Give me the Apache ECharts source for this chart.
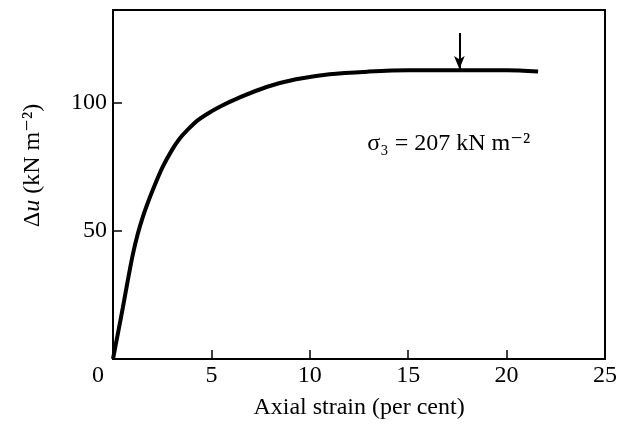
<!DOCTYPE html>
<html>
<head>
<meta charset="utf-8">
<script src="https://cdn.jsdelivr.net/npm/echarts@6/dist/echarts.min.js"></script>
<style>
  html, body { margin: 0; padding: 0; background: #fff; }
  #chart { width: 622px; height: 425px; }
</style>
</head>
<body>
<div id="chart"></div>
<script>
// strain (per cent) vs excess pore pressure (kN/m2)
const strain = [0, 0.25, 0.5, 0.75, 1.0, 1.25, 1.5, 1.75, 2.0, 2.5, 3.0, 3.4, 3.75, 4.3, 5.0, 5.6, 6.3, 7.8, 9.3, 11, 13, 15, 17.6, 20, 21.6]
const deltaU = [0, 10, 20, 30.5, 40.5, 48.5, 55, 60.5, 65.5, 74.5, 81.5, 86, 89, 93, 96.5, 99, 101.5, 106, 109, 111, 112, 112.5, 112.5, 112.5, 112]
const xTicks = [0, 5, 10, 15, 20, 25]
const yTicks = [50, 100]
// failure arrow (x, from y, to y) and note position
const arrowAt = [17.6, 127, 113]
const noteAt = [12.9, 84]
const noteText = 'σ₃ = 207 kN m⁻²'

const serif = "'Liberation Serif', 'DejaVu Serif', serif"
const fs = 24

const myChart = echarts.init(document.getElementById('chart'))

const option = {
  backgroundColor: '#fff',
  animation: false,
  grid: {
    left: 113,
    right: 17,
    top: 10,
    bottom: 63,
    show: true,
    borderColor: '#000',
    borderWidth: 2
  },
  xAxis: {
    type: 'value',
    min: 0,
    max: 25,
    interval: 5,
    name: 'Axial strain (per cent)',
    nameLocation: 'middle',
    nameGap: 37,
    nameTextStyle: { fontFamily: serif, fontSize: fs, color: '#000' },
    axisLine: { lineStyle: { color: '#000', width: 2 } },
    axisTick: { inside: true, length: 9, lineStyle: { color: '#000', width: 1.5 } },
    axisLabel: {
      margin: 5,
      fontFamily: serif,
      fontSize: fs,
      color: '#000',
      formatter: (v) => xTicks.includes(v) ? (v === 0 ? '{z|0}' : String(v)) : '',
      rich: { z: { fontFamily: serif, fontSize: fs, color: '#000', padding: [0, 30, 0, 0] } }
    },
    splitLine: { show: false }
  },
  yAxis: {
    type: 'value',
    min: 0,
    max: 136,
    interval: 50,
    name: '{n|Δ}{i|u}{n| (kN m⁻²)}',
    nameLocation: 'middle',
    nameGap: 68,
    nameRotate: 90,
    nameTextStyle: {
      padding: [0, 0, 0, 38],
      rich: {
        n: { fontFamily: serif, fontSize: fs, color: '#000' },
        i: { fontFamily: serif, fontSize: fs, fontStyle: 'italic', color: '#000' }
      }
    },
    axisLine: { lineStyle: { color: '#000', width: 2 } },
    axisTick: { inside: true, length: 9, lineStyle: { color: '#000', width: 1.5 } },
    axisLabel: {
      margin: 6,
      fontFamily: serif,
      fontSize: fs,
      color: '#000',
      formatter: (v) => yTicks.includes(v) ? String(v) : ''
    },
    splitLine: { show: false }
  },
  series: [
    {
      type: 'line',
      data: strain.map((x, i) => [x, deltaU[i]]),
      showSymbol: false,
      smooth: 0.3,
      lineStyle: { color: '#000', width: 4 },
      markLine: {
        silent: true,
        symbol: ['none', 'arrow'],
        symbolSize: [8, 13],
        label: { show: false },
        lineStyle: { color: '#000', width: 2, type: 'solid' },
        data: [[
          { coord: [arrowAt[0], arrowAt[1]] },
          { coord: [arrowAt[0], arrowAt[2]] }
        ]]
      },
      markPoint: {
        silent: true,
        symbol: 'circle',
        symbolSize: 1,
        itemStyle: { color: 'rgba(0,0,0,0)' },
        label: {
          show: true,
          position: 'right',
          distance: 0,
          formatter: noteText,
          fontFamily: serif,
          fontSize: fs,
          color: '#000'
        },
        data: [{ coord: noteAt }]
      }
    }
  ]
}
myChart.setOption(option)
</script>
</body>
</html>
